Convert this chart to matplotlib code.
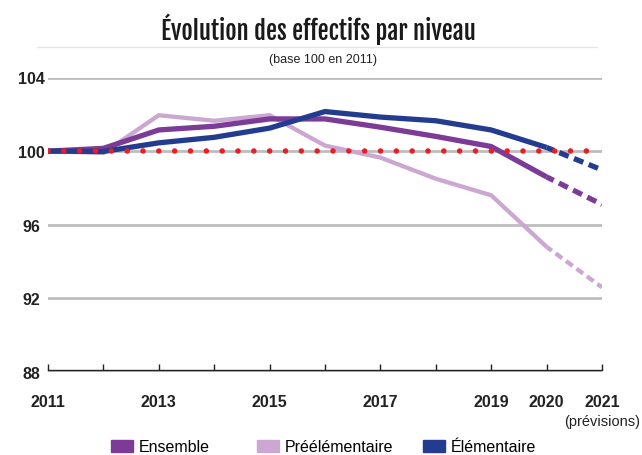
import matplotlib.pyplot as plt
from matplotlib.patches import Patch
from matplotlib.lines import Line2D

years = [2011, 2012, 2013, 2014, 2015, 2016, 2017, 2018, 2019, 2020, 2021]
year_labels = ["2011", "", "2013", "", "2015", "", "2017", "", "2019", "2020", "2021"]

ensemble = [100.0, 100.15, 101.15, 101.35, 101.75, 101.75, 101.3, 100.8, 100.25, 98.6, 97.1]
preelementaire = [100.0, 99.9, 101.95, 101.65, 101.95, 100.3, 99.65, 98.5, 97.6, 94.8, 92.6]
elementaire = [100.0, 99.98, 100.45, 100.75, 101.25, 102.15, 101.85, 101.65, 101.15, 100.2, 98.98]

y_ticks = [88, 92, 96, 100, 104]

c_ens = "#7c3b97"
c_pre = "#cba7d2"
c_ele = "#233c8f"
c_grid = "#bdbdbd"
c_red = "#ec1c24"

series = [
    ("Préélémentaire", preelementaire, c_pre, 3.1),
    ("Ensemble", ensemble, c_ens, 3.8),
    ("Élémentaire", elementaire, c_ele, 3.8),
]

sans = ["Liberation Sans", "DejaVu Sans"]
title_font = ["Fjalla One", "Barlow Condensed", "DejaVu Sans"]

fig = plt.figure(figsize=(6.42, 4.56), dpi=100)
ax = fig.add_axes([48 / 642, 1 - 373 / 456, 554 / 642, 294.5 / 456])

# grid lines
for yv in y_ticks:
    ax.axhline(yv, color=c_grid, lw=2, zorder=1)

# solid until 2020, dashed for the forecast
for name, vals, col, lw in series:
    ax.plot(years[:10], vals[:10], color=col, lw=lw, solid_capstyle="butt",
            solid_joinstyle="round", zorder=3)
    ax.plot(years[9:], vals[9:], color=col, lw=lw, linestyle=(0.4, (1.9, 1.1)),
            dash_capstyle="butt", zorder=3)

# base 100 reference, red dots
ax.plot([years[0], years[-1]], [100, 100], color=c_red, lw=4.0,
        linestyle=(0, (0.001, 11.4 / 4.0 - 0.001)), dash_capstyle="round", zorder=5)

ax.set_xlim(years[0], years[-1])
ax.set_ylim(88, 104)
ax.set_yticks(y_ticks)
ax.set_xticks(years)
ax.set_xticklabels(year_labels)

for s in ["top", "right", "left"]:
    ax.spines[s].set_visible(False)
ax.spines["bottom"].set_color("#222222")
ax.spines["bottom"].set_linewidth(1.0)
ax.spines["bottom"].set_position(("outward", -1.5))
ax.spines["bottom"].set_zorder(2)

ax.tick_params(axis="y", length=0, pad=12, labelsize=11.5, labelcolor="#222222")
ax.tick_params(axis="x", direction="in", length=4, width=1, color="#222222",
               pad=17, labelsize=11.5, labelcolor="#222222")
for lab in ax.get_yticklabels() + ax.get_xticklabels():
    lab.set_fontfamily(sans)
    lab.set_fontweight("bold")
for lab in ax.get_yticklabels():
    lab.set_horizontalalignment("center")

ax.annotate("(prévisions)", xy=(years[-1], 88), xytext=(0, -35.5), textcoords="offset points",
            ha="center", va="center", fontsize=10.5, color="#222222",
            family=sans, annotation_clip=False)

title = fig.text(318 / 642, 1 - 29 / 456, "Évolution des effectifs par niveau", ha="center",
                 va="center", fontsize=21, fontweight="bold", color="#1a1a1a",
                 family=title_font)
# fit the condensed title to its width in the original
r = fig.canvas.get_renderer()
w = title.get_window_extent(r).width
title.set_fontsize(21 * 315 / w)

fig.add_artist(Line2D([37 / 642, 597 / 642], [1 - 48.3 / 456, 1 - 48.3 / 456],
                      color="#e6e6e6", lw=1))
fig.text(323 / 642, 1 - 60 / 456, "(base 100 en 2011)", ha="center", va="center",
         fontsize=9, color="#222222", family=sans)

handles = [Patch(color=c_ens, label="Ensemble"),
           Patch(color=c_pre, label="Préélémentaire"),
           Patch(color=c_ele, label="Élémentaire")]
legend_x = [111, 257, 423]
for h, lx in zip(handles, legend_x):
    leg = fig.legend(handles=[h], loc="center left", bbox_to_anchor=(lx / 642, 1 - 448 / 456),
                     frameon=False, handlelength=1.4, handleheight=0.7, borderpad=0,
                     borderaxespad=0, handletextpad=0.35,
                     prop={"family": sans, "size": 11.5})

fig.savefig("out.png", dpi=100)
